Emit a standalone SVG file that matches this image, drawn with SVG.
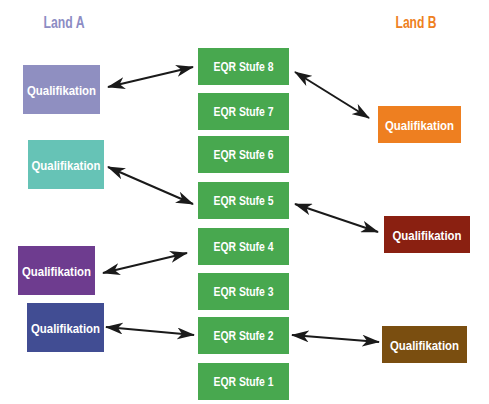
<svg xmlns="http://www.w3.org/2000/svg" width="489" height="404" viewBox="0 0 489 404">
<defs>
<style>
.eqr{fill:#48a84f}
.t{font-family:"Liberation Sans",Arial,sans-serif;font-weight:bold;font-size:13.5px;fill:#fff;text-anchor:middle}
.land{font-family:"Liberation Sans",Arial,sans-serif;font-weight:bold;font-size:16px;text-anchor:middle}
.c{stroke:#1a1a1a;stroke-width:2;fill:none;marker-start:url(#ah);marker-end:url(#ah)}
</style>
<marker id="ah" markerUnits="userSpaceOnUse" viewBox="0 0 18 12" refX="17" refY="6" markerWidth="18" markerHeight="12" orient="auto-start-reverse">
<path d="M0,0 L18,6 L0,12 L5,6 Z" fill="#1a1a1a"/>
</marker>
</defs>
<rect width="489" height="404" fill="#fff"/>
<text class="land" x="64" y="27.5" fill="#8c8cc4" textLength="41" lengthAdjust="spacingAndGlyphs">Land A</text>
<text class="land" x="416" y="27.5" fill="#ee8020" textLength="41" lengthAdjust="spacingAndGlyphs">Land B</text>

<g id="eqr8"><rect class="eqr" x="198" y="48" width="91" height="37"/><text class="t" x="243.5" y="71" textLength="60" lengthAdjust="spacingAndGlyphs">EQR Stufe 8</text></g>
<g id="eqr7"><rect class="eqr" x="198" y="93" width="91" height="37"/><text class="t" x="243.5" y="116" textLength="60" lengthAdjust="spacingAndGlyphs">EQR Stufe 7</text></g>
<g id="eqr6"><rect class="eqr" x="198" y="136" width="91" height="37"/><text class="t" x="243.5" y="159" textLength="60" lengthAdjust="spacingAndGlyphs">EQR Stufe 6</text></g>
<g id="eqr5"><rect class="eqr" x="198" y="182" width="91" height="37"/><text class="t" x="243.5" y="205" textLength="60" lengthAdjust="spacingAndGlyphs">EQR Stufe 5</text></g>
<g id="eqr4"><rect class="eqr" x="198" y="228" width="91" height="37"/><text class="t" x="243.5" y="251" textLength="60" lengthAdjust="spacingAndGlyphs">EQR Stufe 4</text></g>
<g id="eqr3"><rect class="eqr" x="198" y="273" width="91" height="37"/><text class="t" x="243.5" y="296" textLength="60" lengthAdjust="spacingAndGlyphs">EQR Stufe 3</text></g>
<g id="eqr2"><rect class="eqr" x="198" y="317" width="91" height="37"/><text class="t" x="243.5" y="340" textLength="60" lengthAdjust="spacingAndGlyphs">EQR Stufe 2</text></g>
<g id="eqr1"><rect class="eqr" x="198" y="363" width="91" height="37"/><text class="t" x="243.5" y="386" textLength="60" lengthAdjust="spacingAndGlyphs">EQR Stufe 1</text></g>

<g id="qa1"><rect x="23" y="65" width="77" height="49" fill="#8f8fc1"/><text class="t" x="61.5" y="94.5" textLength="69" lengthAdjust="spacingAndGlyphs">Qualifikation</text></g>
<g id="qa2"><rect x="28" y="140" width="76" height="49" fill="#66c3b6"/><text class="t" x="66" y="169.5" textLength="69" lengthAdjust="spacingAndGlyphs">Qualifikation</text></g>
<g id="qa3"><rect x="18" y="246" width="77" height="49" fill="#6e3c8f"/><text class="t" x="56.5" y="275.5" textLength="69" lengthAdjust="spacingAndGlyphs">Qualifikation</text></g>
<g id="qa4"><rect x="27" y="303" width="77" height="49" fill="#414d93"/><text class="t" x="65.5" y="332.5" textLength="69" lengthAdjust="spacingAndGlyphs">Qualifikation</text></g>

<g id="qb1"><rect x="378" y="106" width="83" height="37" fill="#ee7f20"/><text class="t" x="419.5" y="130" textLength="69" lengthAdjust="spacingAndGlyphs">Qualifikation</text></g>
<g id="qb2"><rect x="384" y="216" width="86" height="37" fill="#8a2011"/><text class="t" x="427" y="240" textLength="69" lengthAdjust="spacingAndGlyphs">Qualifikation</text></g>
<g id="qb3"><rect x="382" y="326" width="85" height="37" fill="#7a4e10"/><text class="t" x="424.5" y="350" textLength="69" lengthAdjust="spacingAndGlyphs">Qualifikation</text></g>

<g id="connectors">
<line class="c" x1="108" y1="87" x2="193" y2="67"/>
<line class="c" x1="108" y1="167" x2="193" y2="204"/>
<line class="c" x1="103" y1="273" x2="187" y2="253"/>
<line class="c" x1="106" y1="327" x2="194" y2="335"/>
<line class="c" x1="295" y1="72" x2="369" y2="118"/>
<line class="c" x1="295" y1="204" x2="378" y2="232"/>
<line class="c" x1="292" y1="335" x2="379" y2="342"/>
</g>
</svg>
